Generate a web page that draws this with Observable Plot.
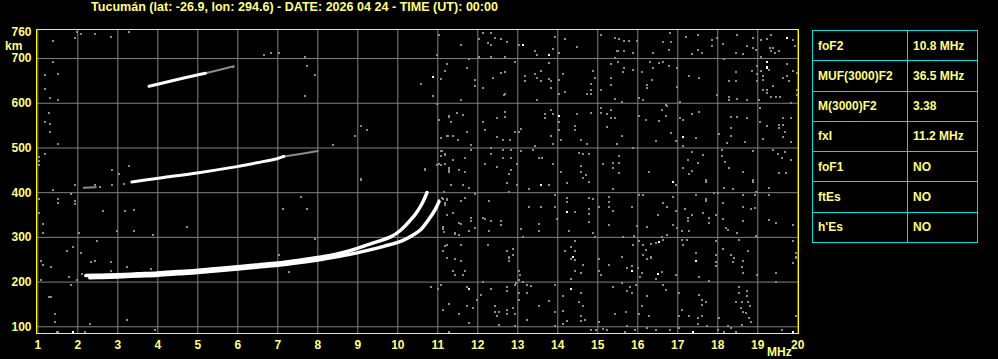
<!DOCTYPE html>
<html><head><meta charset="utf-8">
<script src="https://cdn.jsdelivr.net/npm/d3@7"></script>
<script src="https://cdn.jsdelivr.net/npm/@observablehq/plot@0.6"></script>
<style>
html,body{margin:0;padding:0;background:#000;}
#wrap{position:relative;width:998px;height:359px;background:#000;overflow:hidden;font-family:"Liberation Sans",Arial,sans-serif;font-weight:bold;color:#ffff80;}
#title{position:absolute;left:91px;top:0px;line-height:14px;font-size:12px;white-space:nowrap;transform-origin:0 0;}
#chart{position:absolute;left:0;top:20px;}
.lbl{position:absolute;font-size:12px;line-height:12px;white-space:nowrap;}
#tbl{position:absolute;left:812px;top:30px;border-collapse:collapse;width:166px;height:213px;}
#tbl td{border:1px solid #00e0e0;padding:0 0 0 5px;font-size:12px;color:#ffff80;height:29px;white-space:nowrap;}
#tbl td.c1{width:89px;}
</style></head>
<body>
<div id="wrap">
  <div id="title"></div>
  <div id="chart"></div>
  <div class="lbl" id="km" style="left:5px;top:40px;">km</div>
  <div class="lbl" id="mhz" style="left:767px;top:346px;">MHz</div>
  <table id="tbl"></table>
</div>
<script>
const titleText = "Tucumán (lat: -26.9, lon: 294.6) - DATE: 2026 04 24 - TIME (UT): 00:00";
const xTicks = [1,2,3,4,5,6,7,8,9,10,11,12,13,14,15,16,17,18,19,20];
const yTicks = [100,200,300,400,500,600,700,760];
const yGrid = [100,200,300,400,500,600,700];
const tableLabels = ["foF2","MUF(3000)F2","M(3000)F2","fxI","foF1","ftEs","h'Es"];
const tableValues = ["10.8 MHz","36.5 MHz","3.38","11.2 MHz","NO","NO","NO"];

// traces [frequency MHz, virtual height km]
const traceO = [[2.2,214.5],[2.6,215.5],[3,216.5],[3.5,218.5],[4,220.5],[4.5,223.5],[5,226.5],[5.5,230.5],[6,234.5],[6.5,238.5],[7,242.5],[7.5,248.5],[8,255],[8.4,261],[8.8,270],[9.3,285],[9.82,301],[10.07,316],[10.32,339],[10.48,357],[10.62,378],[10.73,400]];
const traceX = [[2.3,209.5],[2.6,210.5],[3,211.5],[3.5,213.5],[4,215.5],[4.5,218.5],[5,221.5],[5.5,225.5],[6,229.5],[6.5,233.5],[7,237.5],[7.5,243],[8,249.5],[8.4,255.5],[8.8,262],[9.3,272],[9.65,280],[10.07,291],[10.32,302],[10.57,317],[10.82,346],[10.95,365],[11.03,380]];
const trace2F = [[3.35,424],[3.6,427],[4.15,434],[4.98,444],[5.82,456],[6.48,467],[6.98,476],[7.15,481]];
const trace2FGray = [[7.15,481],[7.6,487],[8.0,493]];
const trace2FStart = [[2.15,411],[2.45,412]];
const trace3F = [[3.78,638],[4.2,647],[4.57,655],[5.19,667]];
const trace3FGray = [[5.19,667],[5.5,674],[5.9,683]];

const whiteDots = [[13.13,731],[13.79,708],[14.03,571],[19.74,747],[19.24,692],[19.24,680],[17.14,525],[13.58,417],[14.23,356],[14.38,257],[11.78,184],[14.33,184],[16.89,423],[16.54,289],[15.85,225],[16.5,218],[17.45,248],[17.39,88],[19.89,88],[10.88,659],[1.88,89]];

const noiseLeft = [[1.98,760],[2.08,756],[2.44,756],[2.84,748],[3.29,760],[1.94,745],[1.38,739],[1.38,692],[1.19,664],[1.5,666],[1.19,631],[1.3,612],[1.5,607],[1.29,578],[1.19,558],[1.3,553],[1.3,536],[1.5,508],[1.03,480],[1.03,470],[1.03,462],[1.19,486],[1.38,406],[1.5,385],[1.5,378],[1.03,385],[1.03,355],[1.13,331],[1.13,309],[1.08,248],[1.13,238],[1.33,234],[1.08,204],[1.28,167],[1.32,167],[1.44,128],[1.44,111],[1.5,89],[1.48,89],[2.19,89],[2.3,106],[3.23,115],[3.94,93],
[2.86,450],[3.29,459],[3.03,441],[1.94,417],[2.44,417],[2.55,413],[2.86,417],[3.15,419],[1.84,398],[1.94,382],[1.94,374],[2.63,359],[3.19,359],[3.4,361],[3.4,314],[2.98,314],[3.89,305],[4.73,324],[2.47,292],[2.03,310],[1.74,270],[1.88,279],[2.08,265],[2.34,245],[2.44,248],[2.84,245],[2.84,225],[3.23,234],[3.84,229],[1.78,212],[2.11,219],[1.98,204],[1.82,193],[7.59,391],[7.14,363],[7.74,363],[7.94,296],[7.03,260],[7.28,223],[9.09,428],[10.69,450],[10.98,461],[11.19,464],[11.27,454],[11.27,447],[11.57,331],[11.15,312],[11.24,283],[11.43,309],[10.84,189],[11.07,193],[11.14,324],[11.11,387],[11.24,383],[11.19,376],[11.15,402],
[6.65,707],[6.84,713],[7.04,713],[7.69,704],[7.74,683],[7.94,663],[7.69,616],[5.88,681],[10.97,707],[11.24,687],[11.19,672],[11.09,655],[10.58,644],[10.88,616],[10.98,598],[11.03,562],[11.33,558],[11.27,572],[11.48,578],[11.09,523],[11.24,526],[11.38,526],[11.11,493],[11.19,485],[11.38,474],[11.07,461],[11.27,453],[10.69,452],[9.08,549],[9.23,540],[8.94,526],[8.38,506],[9.07,430],[11.33,417]];

const noiseUpperMid = [[11.03,753],[11.58,731],[12.13,757],[12.33,757],[12.25,734],[12.33,731],[12.44,747],[12.58,744],[12.73,738],[12.02,744],[12.02,704],[12.33,703],[12.69,703],[13.04,731],[13.44,717],[13.48,708],[13.89,722],[13.93,748],[14.03,712],[14.18,744],[14.48,725],[15.07,753],[15.44,747],[15.48,717],[15.43,702],[11.78,698],[11.23,688],[11.19,672],[11.08,654],[11.73,678],[11.93,652],[11.93,639],[12.13,634],[12.38,656],[12.58,667],[12.68,671],[12.65,619],[12.69,621],[12.93,692],[11.58,607],[13.18,660],[13.18,649],[13.43,666],[13.48,656],[13.58,673],[13.58,649],[13.77,691],[13.79,655],[13.83,649],[13.83,634],[14.03,652],[14.03,620],[14.13,665],[14.18,626],[14.88,673],[14.93,656],[14.84,643],[14.84,630],[14.73,621],[14.83,621],[15.07,630],[15.33,687],[15.33,656],[15.33,640],[15.43,610],[13.48,607],
[11.04,563],[11.29,570],[11.48,578],[11.63,574],[11.33,558],[11.08,523],[11.25,527],[11.38,527],[11.5,518],[11.73,535],[12.13,558],[12.19,540],[12.48,566],[12.68,570],[12.67,580],[12.48,524],[12.63,518],[12.81,518],[12.94,535],[13.08,543],[13.02,535],[13.68,575],[13.68,566],[13.83,585],[13.88,575],[14.03,557],[14.03,540],[13.83,527],[13.88,508],[14.08,518],[14.43,549],[14.43,540],[14.48,575],[14.58,518],[14.73,508],[14.83,578],[15.07,590],[15.07,578],[15.22,575],[15.22,546],[15.33,585],[15.33,566],[15.44,566],[15.48,508],
[11.08,493],[11.08,482],[11.18,486],[11.03,464],[11.27,455],[11.27,449],[11.38,473],[11.54,451],[11.67,477],[11.68,446],[11.82,507],[11.83,496],[12.19,464],[12.33,499],[12.33,486],[12.48,458],[12.63,477],[12.64,496],[12.78,442],[12.83,451],[12.83,496],[12.83,477],[12.98,464],[13.08,494],[13.39,496],[13.43,505],[13.53,477],[13.61,477],[13.88,464],[14.08,446],[14.52,488],[14.64,486],[14.78,486],[14.58,460],[14.58,447],[14.71,440],[15.13,464],[15.38,466],[15.38,455]];

const noiseUpperRight = [[15.54,744],[15.65,740],[15.79,740],[15.99,740],[15.5,717],[15.65,716],[15.89,712],[16.39,712],[16.8,757],[16.79,719],[16.64,738],[16.84,738],[17.2,748],[17.5,753],[17.5,719],[17.35,710],[17.6,712],[17.85,742],[17.85,727],[17.97,747],[18.14,733],[18.49,753],[18.45,712],[18.64,710],[18.74,727],[18.89,745],[18.89,723],[18.95,719],[19.09,742],[19.09,704],[19.24,744],[19.34,753],[19.3,723],[19.39,723],[19.34,716],[19.43,712],[19.54,717],[19.89,742],[19.93,727],
[15.5,693],[15.65,678],[15.64,669],[15.89,675],[16.1,669],[16.3,693],[16.37,678],[16.54,690],[16.64,692],[16.79,683],[16.35,652],[16.22,641],[16.24,634],[16.97,637],[16.04,611],[16.14,607],[17.29,661],[17.54,656],[16.99,678],[17.99,619],[18.15,699],[18.29,649],[18.45,671],[18.45,649],[18.29,615],[18.29,607],[18.49,609],[18.74,607],[18.85,672],[18.99,684],[18.99,665],[18.99,650],[19.08,672],[19.14,661],[19.14,652],[19.29,675],[19.14,630],[19.24,630],[19.24,622],[19.34,615],[19.39,639],[19.45,615],[19.55,615],[19.64,656],[19.74,687],[19.74,662],[19.79,649],[19.89,672],[19.97,667],[19.97,630],[19.99,619],[19.04,607],[15.6,602],[17.05,602],
[16.7,596],[16.72,594],[16.6,585],[16.54,560],[16.04,571],[16.2,562],[16.7,571],[17.05,566],[17.14,562],[17.35,575],[17.54,580],[16.84,534],[16.45,516],[16.95,516],[17.14,505],[17.45,522],[18.04,531],[18.34,570],[18.49,570],[18.74,566],[18.34,544],[18.34,527],[18.24,511],[18.69,514],[19.05,589],[19.05,559],[19.14,520],[19.24,549],[19.54,551],[19.54,544],[19.64,566],[19.64,551],[19.68,536],[19.64,525],[19.84,568],[19.84,600],[19.84,514],[15.6,527],[15.47,508],[15.89,499],
[15.54,481],[15.54,467],[15.54,445],[16.29,447],[17.35,490],[17.25,473],[17.14,455],[17.35,449],[17.29,441],[17.64,484],[17.5,466],[18.1,496],[18.1,482],[18.18,468],[18.28,455],[18.64,446],[18.89,494],[19.39,496],[19.5,487],[19.68,490],[19.6,478],[19.84,473],[19.54,444],[19.7,445]];

const noiseLowerMid = [[11.33,417],[11.63,417],[11.78,410],[12.78,401],[12.73,421],[12.98,417],[13.29,408],[13.77,417],[14.23,421],[14.63,432],[14.78,423],[15.38,408],[11.03,384],[11.13,385],[11.23,385],[11.17,373],[11.58,382],[11.69,388],[11.94,397],[12.28,382],[13.93,395],[14.23,389],[14.23,379],[14.43,356],[14.78,389],[14.78,364],[14.78,352],[14.88,386],[15.03,369],[15.28,390],[15.28,380],[15.28,369],[15.38,358],[13.28,368],[13.58,368],[13.93,368],[11.38,354],[11.23,350],[11.53,332],[11.13,318],[11.44,307],[11.54,306],[11.79,315],[11.83,344],[11.83,336],[11.94,322],[12.13,344],[12.19,341],[12.28,315],[12.33,337],[12.58,337],[12.58,328],[13.08,318],[13.14,300],[13.53,330],[13.53,315],[13.98,341],[14.28,315],[14.79,335],[14.88,309],[15.28,328],[14.94,300],[14.43,293],[11.18,281],[11.13,270],[11.23,253],[11.42,251],[11.58,283],[11.58,248],[12.25,283],[12.73,270],[12.89,274],[12.89,261],[12.78,255],[12.78,248],[11.38,225],[11.68,225],[11.42,216],[11.64,215],[12.14,201],[13.02,224],[13.06,215],[13.02,205],[13.14,201],[14.18,270],[14.33,278],[14.43,270],[14.33,252],[14.43,250],[14.63,239],[14.43,225],[14.58,220],[14.33,207],[15.03,251],[15.03,224],[15.08,215],[15.28,239],[11.0,184],[11.73,189],[12.32,184],[12.08,172],[11.98,160],[11.28,151],[11.13,138],[11.53,128],[11.73,147],[11.88,142],[11.78,108],[12.73,189],[12.73,181],[12.92,194],[12.96,198],[13.02,175],[13.02,160],[13.22,194],[13.33,192],[13.23,175],[12.42,147],[12.44,132],[12.52,132],[12.48,125],[12.73,138],[12.73,128],[12.88,142],[12.93,128],[12.52,104],[12.93,102],[13.22,116],[13.53,147],[13.78,157],[13.93,194],[13.93,134],[13.93,102],[14.13,168],[14.13,136],[14.13,107],[14.24,112],[14.52,155],[14.58,175],[14.63,147],[14.58,125],[14.68,116],[14.58,112],[15.03,110],[15.43,128],[15.38,190],[15.13,95],[15.24,93],[14.84,93],[14.96,93],[11.29,88]];

const noiseLowerRight = [[16.95,417],[17.7,429],[17.7,425],[18.89,429],[18.89,423],[18.15,410],[18.39,408],[18.95,401],[19.29,410],[16.04,395],[16.14,395],[16.89,391],[17.45,395],[17.9,399],[18.01,399],[18.64,395],[18.94,395],[19.29,395],[17.7,386],[17.7,382],[15.85,368],[16.64,377],[16.74,368],[17.18,364],[16.5,350],[16.95,359],[17.35,350],[17.25,344],[17.25,337],[17.64,354],[17.79,344],[17.79,332],[17.95,350],[18.14,377],[18.14,341],[18.2,322],[18.25,317],[18.49,309],[18.64,369],[18.64,337],[18.84,364],[18.94,366],[19.29,339],[19.45,332],[19.89,328],[18.95,304],[16.89,328],[16.99,322],[16.24,323],[16.72,306],[16.6,300],[15.64,300],[15.9,304],[15.99,326],[17.1,315],[17.29,315],[17.1,295],[17.24,295],[17.14,283],[16.04,291],[16.14,283],[16.34,285],[16.45,287],[16.62,295],[16.2,272],[16.14,261],[15.89,283],[15.6,256],[15.74,232],[15.85,236],[16.01,231],[16.1,221],[16.06,211],[16.34,255],[16.24,251],[16.45,207],[16.6,222],[16.95,216],[17.45,265],[17.54,211],[17.79,203],[17.95,261],[17.95,246],[17.95,235],[17.95,292],[18.14,274],[18.34,260],[18.37,246],[18.4,254],[18.54,295],[18.64,248],[18.6,233],[18.64,220],[18.75,270],[18.99,216],[19.45,220],[19.45,201],[19.89,291],[19.95,265],[19.95,255],[19.89,242],[15.6,198],[15.8,190],[15.95,194],[15.74,179],[15.85,175],[16.64,194],[16.7,183],[16.24,168],[16.1,147],[16.04,128],[15.7,133],[17.04,175],[17.04,125],[17.1,138],[17.29,125],[17.54,172],[17.6,160],[17.6,148],[17.7,155],[17.5,120],[17.5,107],[17.6,125],[17.74,102],[18.04,120],[18.54,190],[18.52,175],[18.74,179],[18.74,168],[18.45,155],[18.6,155],[18.57,143],[18.64,134],[18.75,155],[18.8,147],[18.7,131],[18.79,120],[18.84,111],[18.6,105],[18.25,102],[18.33,97],[19.95,125],[16.29,125],[17.04,98],[15.72,102],[15.93,93],[16.22,97],[16.45,93],[16.8,93],[18.01,93],[18.15,88],[18.45,88],[19.6,93],[15.68,88]];

const noise = [...noiseLeft, ...noiseUpperMid, ...noiseUpperRight, ...noiseLowerMid, ...noiseLowerRight];

const FONT = '"Liberation Sans", Arial, sans-serif';
const px = d => d[0], py = d => d[1];

const chart = Plot.plot({
  width: 812, height: 339,
  marginLeft: 36, marginRight: 14, marginTop: 9, marginBottom: 26,
  x: {domain: [0.967, 20.018]},
  y: {domain: [85, 765]},
  style: {background: "#000", color: "#ffff80", fontFamily: FONT, fontSize: "12px", fontWeight: "bold"},
  marks: [
    Plot.gridX(xTicks, {stroke: "#808080", strokeOpacity: 1, strokeWidth: 1}),
    Plot.gridY(yGrid, {stroke: "#808080", strokeOpacity: 1, strokeWidth: 1}),
    Plot.dot(noise, {x: px, y: py, symbol: "square", r: 1.13, fill: "#8c8c8c", stroke: null, shapeRendering: "crispEdges"}),
    Plot.line(trace2FStart, {x: px, y: py, stroke: "#8c8c8c", strokeWidth: 2}),
    Plot.line(trace2FGray, {x: px, y: py, stroke: "#8c8c8c", strokeWidth: 2}),
    Plot.line(trace3FGray, {x: px, y: py, stroke: "#8c8c8c", strokeWidth: 2}),
    Plot.line(traceO, {x: px, y: py, stroke: "#fff", strokeWidth: 3.5, curve: "catmull-rom"}),
    Plot.line(traceX, {x: px, y: py, stroke: "#fff", strokeWidth: 3.5, curve: "catmull-rom"}),
    Plot.line(trace2F, {x: px, y: py, stroke: "#fff", strokeWidth: 3, curve: "catmull-rom"}),
    Plot.line(trace3F, {x: px, y: py, stroke: "#fff", strokeWidth: 3, curve: "catmull-rom"}),
    Plot.dot(whiteDots, {x: px, y: py, symbol: "square", r: 1.13, fill: "#fff", stroke: null, shapeRendering: "crispEdges"}),
    Plot.frame({stroke: "#ffff00", strokeWidth: 1}),
    Plot.axisX(xTicks, {tickSize: 0, tickPadding: 7, label: null, fill: "#ffff80"}),
    Plot.axisY(yTicks, {tickSize: 0, tickPadding: 5, label: null, fill: "#ffff80"})
  ]
});
document.getElementById("chart").appendChild(chart);

const t = document.getElementById("title");
t.textContent = titleText;
const w = t.getBoundingClientRect().width;
t.style.transform = `scaleX(${407 / w})`;

const tbl = document.getElementById("tbl");
tableLabels.forEach((lab, i) => {
  const tr = document.createElement("tr");
  const a = document.createElement("td"); a.className = "c1"; a.textContent = lab;
  const b = document.createElement("td"); b.textContent = tableValues[i];
  tr.appendChild(a); tr.appendChild(b); tbl.appendChild(tr);
});
</script>
</body></html>
